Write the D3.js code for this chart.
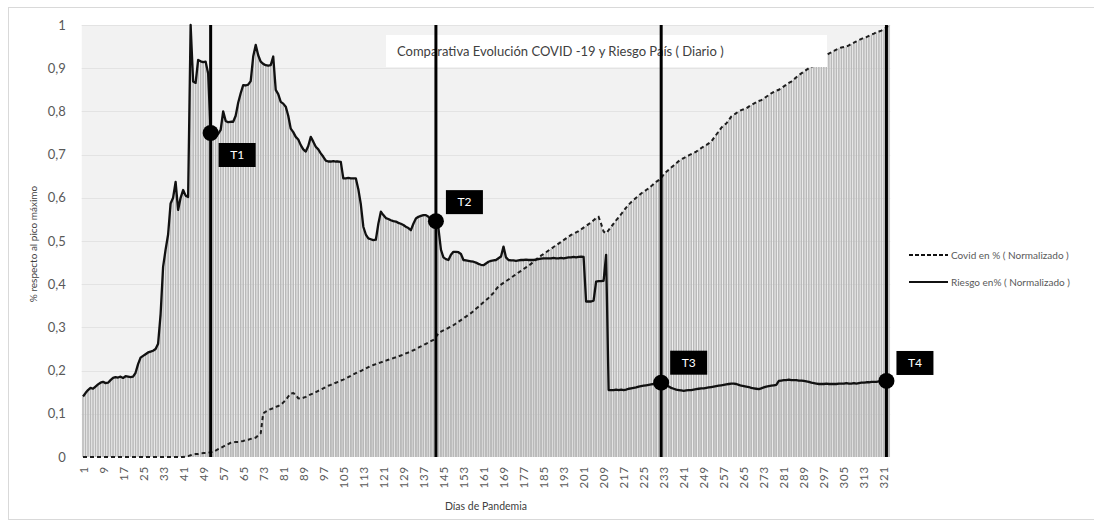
<!DOCTYPE html>
<html>
<head>
<meta charset="utf-8">
<script src="https://cdn.jsdelivr.net/npm/d3@7/dist/d3.min.js"></script>
<style>
  html, body { margin: 0; padding: 0; background: #ffffff; }
  svg { display: block; font-family: Lato, "Open Sans", "Liberation Sans", sans-serif; }
</style>
</head>
<body>
<svg id="chart" width="1094" height="525"></svg>
<script>
// Día de pandemia 1 … 323
const days = d3.range(1, 324);

// Riesgo País, normalizado respecto al pico máximo (días 1 … 323)
const riesgo = [
  0.140, 0.148, 0.155, 0.160, 0.158, 0.163, 0.168, 0.172, 0.174, 0.171,
  0.172, 0.178, 0.183, 0.185, 0.184, 0.186, 0.183, 0.187, 0.186, 0.185,
  0.186, 0.195, 0.215, 0.230, 0.234, 0.238, 0.242, 0.244, 0.246, 0.250,
  0.262, 0.330, 0.440, 0.480, 0.515, 0.587, 0.600, 0.637, 0.572, 0.600,
  0.618, 0.605, 0.602, 1.000, 0.869, 0.866, 0.919, 0.916, 0.914, 0.915,
  0.888, 0.750, 0.745, 0.742, 0.748, 0.757, 0.800, 0.778, 0.775, 0.776,
  0.776, 0.790, 0.820, 0.842, 0.861, 0.860, 0.862, 0.870, 0.927, 0.954,
  0.930, 0.915, 0.910, 0.907, 0.906, 0.907, 0.927, 0.850, 0.840, 0.822,
  0.818, 0.811, 0.790, 0.760, 0.752, 0.741, 0.735, 0.722, 0.712, 0.707,
  0.720, 0.741, 0.730, 0.718, 0.712, 0.703, 0.695, 0.686, 0.684, 0.684,
  0.685, 0.684, 0.684, 0.683, 0.645, 0.645, 0.646, 0.645, 0.645, 0.645,
  0.620, 0.585, 0.533, 0.515, 0.506, 0.504, 0.502, 0.503, 0.540, 0.568,
  0.560, 0.553, 0.551, 0.548, 0.546, 0.545, 0.542, 0.540, 0.537, 0.533,
  0.530, 0.525, 0.540, 0.552, 0.556, 0.558, 0.560, 0.560, 0.556, 0.550,
  0.545, 0.546, 0.530, 0.480, 0.462, 0.458, 0.456, 0.468, 0.475, 0.475,
  0.474, 0.470, 0.456, 0.455, 0.454, 0.453, 0.452, 0.450, 0.447, 0.445,
  0.444, 0.448, 0.452, 0.454, 0.455, 0.456, 0.460, 0.464, 0.487, 0.462,
  0.456, 0.455, 0.455, 0.454, 0.455, 0.456, 0.456, 0.457, 0.456, 0.456,
  0.456, 0.457, 0.458, 0.459, 0.460, 0.460, 0.460, 0.460, 0.461, 0.460,
  0.460, 0.461, 0.460, 0.461, 0.462, 0.462, 0.463, 0.462, 0.463, 0.464,
  0.463, 0.360, 0.360, 0.360, 0.362, 0.406, 0.407, 0.407, 0.408, 0.468,
  0.155, 0.155, 0.155, 0.156, 0.155, 0.156, 0.155, 0.156, 0.158, 0.159,
  0.160, 0.161, 0.163, 0.164, 0.165, 0.166, 0.167, 0.168, 0.169, 0.170,
  0.171, 0.172, 0.170, 0.166, 0.163, 0.160, 0.158, 0.156, 0.155, 0.154,
  0.153, 0.154, 0.155, 0.155, 0.156, 0.157, 0.158, 0.159, 0.159, 0.160,
  0.161, 0.162, 0.163, 0.164, 0.165, 0.166, 0.167, 0.168, 0.169, 0.170,
  0.170, 0.169, 0.167, 0.165, 0.164, 0.163, 0.162, 0.160, 0.159, 0.158,
  0.157, 0.159, 0.161, 0.163, 0.164, 0.165, 0.166, 0.167, 0.176, 0.177,
  0.178, 0.178, 0.179, 0.178, 0.178, 0.178, 0.177, 0.177, 0.176, 0.175,
  0.174, 0.172, 0.171, 0.170, 0.169, 0.169, 0.169, 0.170, 0.169, 0.169,
  0.169, 0.169, 0.170, 0.170, 0.170, 0.171, 0.170, 0.170, 0.171, 0.170,
  0.171, 0.172, 0.172, 0.173, 0.173, 0.174, 0.174, 0.174, 0.175, 0.175,
  0.176, 0.176, 0.177
];

// Casos de Covid, normalizados respecto al máximo (días 1 … 323)
const covid = [
  0, 0, 0, 0, 0, 0, 0, 0, 0, 0,
  0, 0, 0, 0, 0, 0, 0, 0, 0, 0,
  0, 0, 0, 0, 0, 0, 0, 0, 0, 0,
  0, 0, 0, 0, 0, 0, 0, 0, 0, 0,
  0, 0.001, 0.002, 0.004, 0.006, 0.007, 0.007, 0.008, 0.009, 0.009,
  0.010, 0.011, 0.012, 0.015, 0.018, 0.021, 0.024, 0.027, 0.030, 0.033,
  0.034, 0.035, 0.035, 0.036, 0.037, 0.039, 0.040, 0.042, 0.043, 0.045,
  0.050, 0.055, 0.101, 0.105, 0.108, 0.111, 0.113, 0.116, 0.118, 0.121,
  0.126, 0.132, 0.140, 0.147, 0.148, 0.144, 0.136, 0.135, 0.137, 0.139,
  0.142, 0.145, 0.147, 0.150, 0.153, 0.156, 0.159, 0.162, 0.165, 0.167,
  0.170, 0.172, 0.174, 0.177, 0.179, 0.182, 0.185, 0.188, 0.191, 0.194,
  0.197, 0.199, 0.202, 0.205, 0.208, 0.211, 0.213, 0.215, 0.217, 0.219,
  0.221, 0.223, 0.225, 0.227, 0.229, 0.231, 0.233, 0.235, 0.237, 0.240,
  0.242, 0.245, 0.247, 0.250, 0.253, 0.256, 0.259, 0.262, 0.265, 0.268,
  0.271, 0.278, 0.286, 0.290, 0.293, 0.296, 0.299, 0.302, 0.305, 0.309,
  0.313, 0.317, 0.321, 0.325, 0.329, 0.333, 0.338, 0.343, 0.348, 0.353,
  0.358, 0.363, 0.368, 0.374, 0.380, 0.388, 0.395, 0.399, 0.403, 0.407,
  0.411, 0.415, 0.419, 0.423, 0.427, 0.431, 0.435, 0.439, 0.443, 0.447,
  0.452, 0.457, 0.462, 0.466, 0.470, 0.474, 0.478, 0.482, 0.486, 0.490,
  0.494, 0.498, 0.502, 0.506, 0.510, 0.514, 0.517, 0.520, 0.523, 0.527,
  0.531, 0.535, 0.539, 0.543, 0.548, 0.553, 0.556, 0.540, 0.522, 0.518,
  0.525, 0.533, 0.540, 0.548, 0.555, 0.562, 0.570, 0.577, 0.584, 0.590,
  0.595, 0.600, 0.605, 0.610, 0.614, 0.618, 0.622, 0.627, 0.632, 0.637,
  0.641, 0.646, 0.654, 0.660, 0.665, 0.670, 0.675, 0.680, 0.685, 0.689,
  0.692, 0.695, 0.698, 0.701, 0.704, 0.707, 0.711, 0.715, 0.719, 0.722,
  0.726, 0.730, 0.738, 0.746, 0.754, 0.762, 0.768, 0.772, 0.780, 0.788,
  0.792, 0.796, 0.800, 0.803, 0.805, 0.807, 0.811, 0.815, 0.818, 0.821,
  0.824, 0.826, 0.830, 0.834, 0.838, 0.842, 0.845, 0.848, 0.850, 0.854,
  0.858, 0.862, 0.866, 0.869, 0.874, 0.879, 0.884, 0.888, 0.892, 0.896,
  0.900, 0.903, 0.906, 0.909, 0.912, 0.918, 0.924, 0.930, 0.934, 0.937,
  0.940, 0.943, 0.946, 0.948, 0.949, 0.950, 0.953, 0.956, 0.959, 0.962,
  0.965, 0.968, 0.970, 0.972, 0.975, 0.978, 0.980, 0.983, 0.985, 0.987,
  0.990, 0.994, 1.000
];

// Hitos marcados sobre la serie de Riesgo País
const hitoNames = ["T1", "T2", "T3", "T4"];
const hitoDays = [52, 142, 232, 322];

// Marcas y etiquetas de los ejes
const xTickDays = [1, 9, 17, 25, 33, 41, 49, 57, 65, 73, 81, 89, 97, 105, 113, 121,
  129, 137, 145, 153, 161, 169, 177, 185, 193, 201, 209, 217, 225, 233, 241, 249,
  257, 265, 273, 281, 289, 297, 305, 313, 321];
const yTicks = [0, 0.1, 0.2, 0.3, 0.4, 0.5, 0.6, 0.7, 0.8, 0.9, 1];
const yTickLabels = ["0", "0,1", "0,2", "0,3", "0,4", "0,5", "0,6", "0,7", "0,8", "0,9", "1"];

const titleText = "Comparativa Evolución COVID -19 y Riesgo País ( Diario )";
const xTitle = "Días de Pandemia";
const yTitle = "% respecto al pico máximo";
const seriesNames = ["Covid en % ( Normalizado )", "Riesgo en% ( Normalizado )"];

// ---- layout ----
const svg = d3.select("#chart");
const plot = { left: 81.75, right: 890.2, top: 25, bottom: 457 };

const x = d3.scaleBand().domain(days).range([plot.left, plot.right]).padding(0);
const cx = d => x(d) + x.bandwidth() / 2;
const y = d3.scaleLinear().domain([0, 1]).range([plot.bottom, plot.top]);

// outer frame
svg.append("rect")
  .attr("x", 8.5).attr("y", 7.5).attr("width", 1100).attr("height", 512)
  .attr("fill", "#ffffff").attr("stroke", "#d9d9d9");

// plot background
svg.append("rect")
  .attr("x", plot.left).attr("y", plot.top)
  .attr("width", plot.right - plot.left).attr("height", plot.bottom - plot.top)
  .attr("fill", "#f2f2f2");

// horizontal gridlines
svg.append("g").selectAll("line").data(yTicks.slice(1)).join("line")
  .attr("x1", plot.left).attr("x2", plot.right)
  .attr("y1", d => Math.round(y(d)) + 0.5).attr("y2", d => Math.round(y(d)) + 0.5)
  .attr("stroke", "#e3e3e3");

// daily columns for both series
const barW = x.bandwidth() * 0.62;
const bars = svg.append("g").attr("fill", "#b9b9b9");
[covid, riesgo].forEach(series => {
  bars.append("g").selectAll("rect").data(days).join("rect")
    .attr("x", d => cx(d) - barW / 2)
    .attr("width", barW)
    .attr("y", (d, i) => y(series[i]))
    .attr("height", (d, i) => y(0) - y(series[i]));
});

// lines
const line = series => d3.line()
  .x(d => cx(d))
  .y((d, i) => y(series[i]))(days);

svg.append("path")
  .attr("d", line(covid))
  .attr("fill", "none").attr("stroke", "#1e1e1e")
  .attr("stroke-width", 2).attr("stroke-dasharray", "4,3");

svg.append("path")
  .attr("d", line(riesgo))
  .attr("fill", "none").attr("stroke", "#111111")
  .attr("stroke-width", 2.3).attr("stroke-linejoin", "round");

// title box
svg.append("rect")
  .attr("x", 386).attr("y", 35).attr("width", 441).attr("height", 32)
  .attr("fill", "#ffffff");
svg.append("text")
  .attr("x", 397).attr("y", 51).attr("dy", "0.35em")
  .attr("font-size", 13).attr("fill", "#404040")
  .text(titleText);

// milestone verticals, markers and tags
const tagOffsets = [[8, 10], [10, -31], [9, -32], [10, -30]];
const hitos = svg.append("g");
hitoDays.forEach((d, k) => {
  const px = cx(d);
  const py = y(riesgo[d - 1]);
  hitos.append("line")
    .attr("x1", px).attr("x2", px).attr("y1", y(1)).attr("y2", y(0))
    .attr("stroke", "#000").attr("stroke-width", 3);
  hitos.append("circle")
    .attr("cx", px).attr("cy", py).attr("r", 8).attr("fill", "#000");
  const [ox, oy] = tagOffsets[k];
  hitos.append("rect")
    .attr("x", px + ox).attr("y", py + oy).attr("width", 37).attr("height", 24)
    .attr("fill", "#000");
  hitos.append("text")
    .attr("x", px + ox + 18.5).attr("y", py + oy + 12).attr("dy", "0.35em")
    .attr("text-anchor", "middle").attr("font-size", 12).attr("fill", "#fff")
    .text(hitoNames[k]);
});

// y axis
const yAxis = svg.append("g")
  .attr("transform", `translate(${plot.left - 13},0)`)
  .call(d3.axisLeft(y).tickValues(yTicks).tickSize(0)
    .tickFormat((d, i) => yTickLabels[i]));
yAxis.select(".domain").remove();
yAxis.selectAll("text")
  .attr("font-family", "Lato, 'Open Sans', sans-serif")
  .attr("font-size", 13).attr("fill", "#595959");

// x axis
const xAxis = svg.append("g")
  .attr("transform", `translate(0,${plot.bottom})`)
  .call(d3.axisBottom(x).tickValues(xTickDays).tickSize(0));
xAxis.select(".domain").remove();
xAxis.selectAll("text")
  .attr("font-family", "Lato, 'Open Sans', sans-serif")
  .attr("font-size", 11.5).attr("fill", "#595959")
  .attr("letter-spacing", "0.8px")
  .attr("text-anchor", "end")
  .attr("y", 0).attr("x", 0).attr("dy", null)
  .attr("transform", "translate(0,9) rotate(-90)")
  .attr("dominant-baseline", "central");

// axis titles
svg.append("text")
  .attr("x", (plot.left + plot.right) / 2).attr("y", 506)
  .attr("text-anchor", "middle").attr("dy", "0.35em")
  .attr("font-size", 10.5).attr("fill", "#404040")
  .text(xTitle);
svg.append("text")
  .attr("transform", `translate(33,${(plot.top + plot.bottom) / 2 + 3}) rotate(-90)`)
  .attr("text-anchor", "middle").attr("dy", "0.35em")
  .attr("font-size", 10).attr("fill", "#404040")
  .text(yTitle);

// legend
const legend = svg.append("g").attr("transform", "translate(909,255)");
seriesNames.forEach((name, i) => {
  const gy = i * 27;
  legend.append("line")
    .attr("x1", 0).attr("x2", 39).attr("y1", gy).attr("y2", gy)
    .attr("stroke", "#111").attr("stroke-width", 2)
    .attr("stroke-dasharray", i === 0 ? "4,2" : null);
  legend.append("text")
    .attr("x", 42).attr("y", gy).attr("dy", "0.35em")
    .attr("font-size", 10).attr("fill", "#595959")
    .text(name);
});
</script>
</body>
</html>
